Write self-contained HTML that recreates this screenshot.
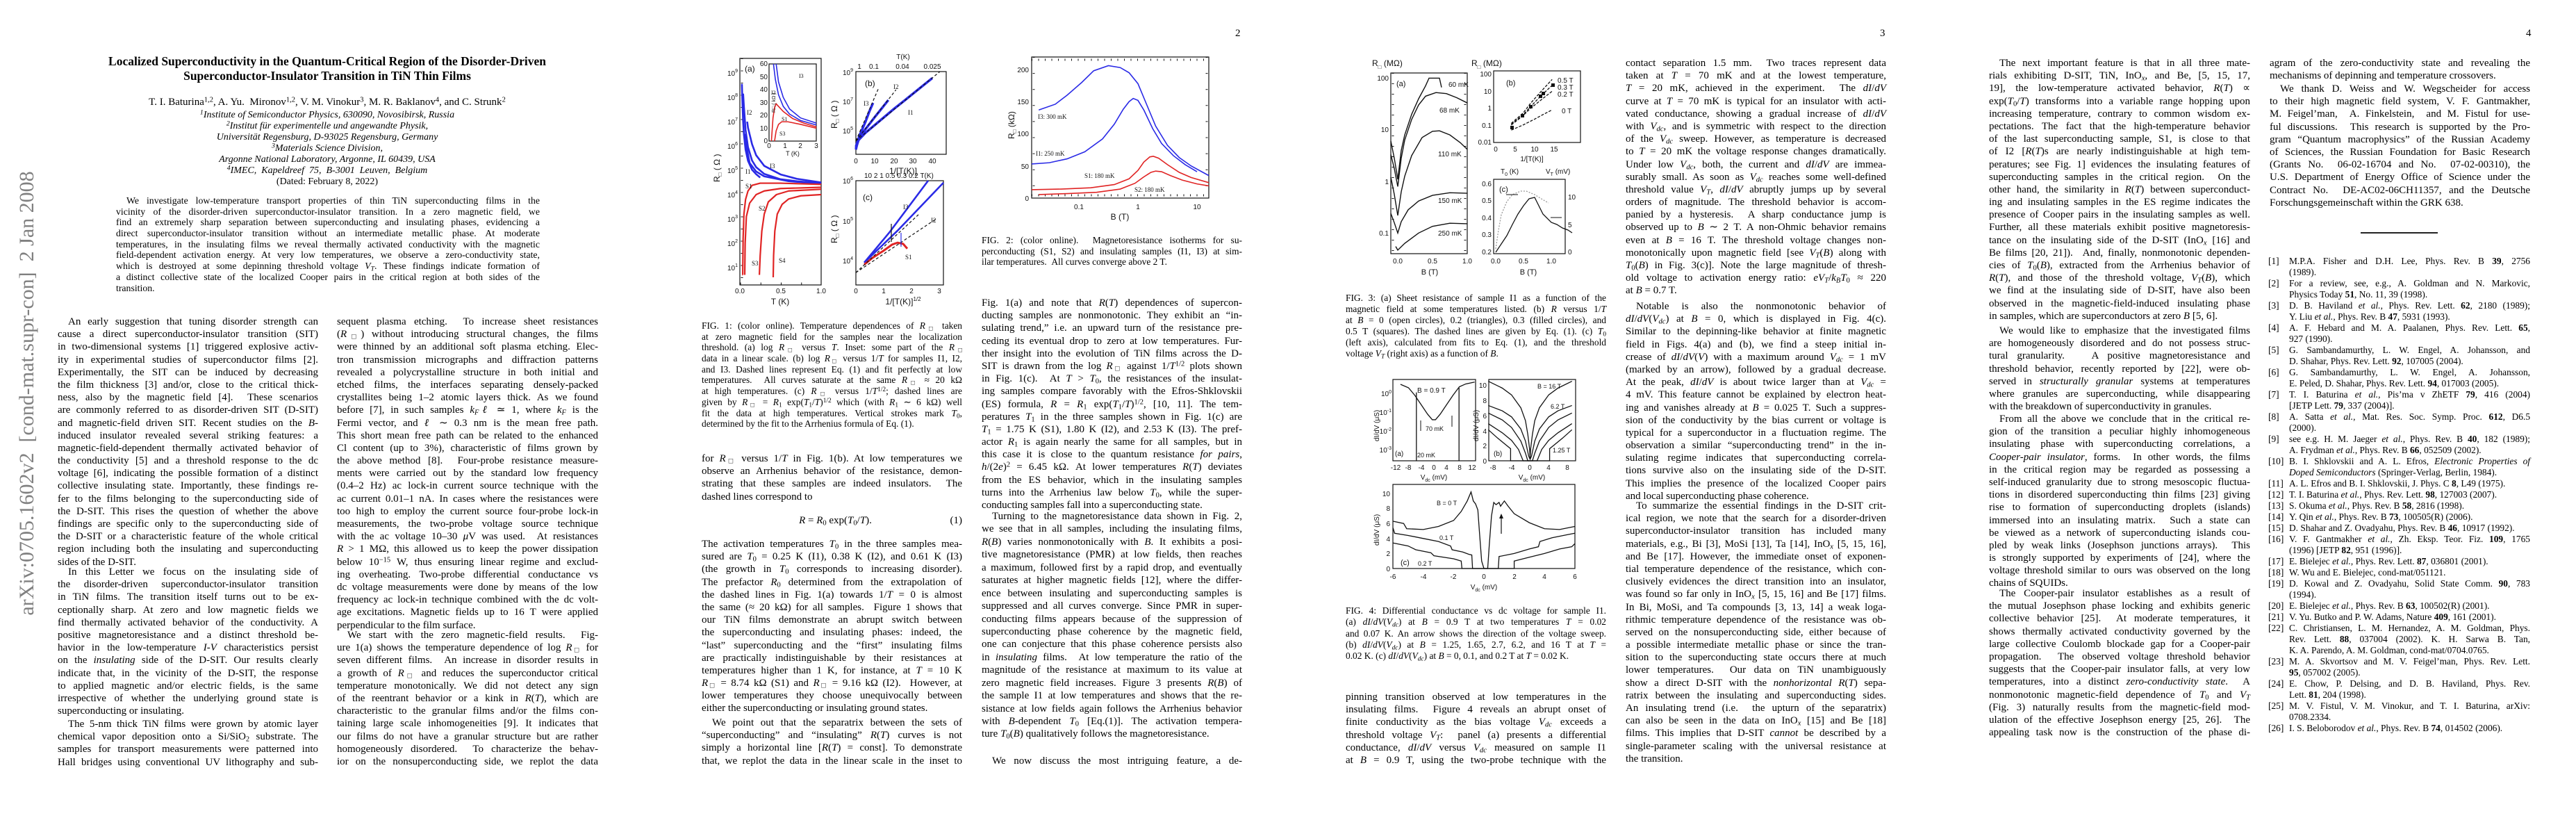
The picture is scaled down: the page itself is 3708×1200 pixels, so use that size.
<!DOCTYPE html>
<html><head><meta charset="utf-8">
<style>
html,body{margin:0;padding:0;background:#fff;}
body{width:3708px;height:1200px;position:relative;overflow:hidden;color:#000;font-family:"Liberation Serif",serif;}
.b{position:absolute;font-size:15px;line-height:18.2px;}
.b div{text-align:justify;text-align-last:justify;white-space:nowrap;height:18.2px;}
.b div.e{text-align-last:left;}
.b div.i{text-indent:15px;}
.c{position:absolute;font-size:13.4px;line-height:15.7px;}
.c div{text-align:justify;text-align-last:justify;white-space:nowrap;height:15.7px;}
.c div.e{text-align-last:left;}
.c div.i{text-indent:15px;}
sub,sup{font-size:70%;line-height:0;}
sub{vertical-align:-0.25em;} sup{vertical-align:0.45em;}
.pn{position:absolute;top:40px;font-size:15px;}
.ref{position:absolute;font-size:13.4px;line-height:16px;left:3267px;width:375px;}
.ref div{position:relative;padding-left:28px;height:16px;white-space:nowrap;text-align:justify;text-align-last:justify;}
.ref div.e{text-align-last:left;}
.ref span.n{position:absolute;left:4px;text-align:right;width:22px;left:-2px;}
svg text{font-family:"Liberation Sans",sans-serif;font-size:10px;fill:#111;}
svg text.s{font-family:"Liberation Serif",serif;}
</style></head><body>

<!-- sidebar -->
<div style="position:absolute;left:-311px;top:549px;width:700px;height:34px;transform:rotate(-90deg);transform-origin:350px 17px;text-align:center;white-space:pre;font-size:30px;line-height:34px;color:#808080;">arXiv:0705.1602v2  [cond-mat.supr-con]  2 Jan 2008</div>

<!-- PAGE 1 -->
<div style="position:absolute;left:21px;width:900px;top:78px;text-align:center;font-weight:bold;font-size:17.5px;line-height:21px;">Localized Superconductivity in the Quantum-Critical Region of the Disorder-Driven<br>Superconductor-Insulator Transition in TiN Thin Films</div>
<div style="position:absolute;left:21px;width:900px;top:139px;text-align:center;font-size:15px;line-height:16px;">T. I. Baturina<sup>1,2</sup>, A. Yu. &nbsp;Mironov<sup>1,2</sup>, V. M. Vinokur<sup>3</sup>, M. R. Baklanov<sup>4</sup>, and C. Strunk<sup>2</sup></div>
<div style="position:absolute;left:21px;width:900px;top:158px;text-align:center;font-size:14px;line-height:16px;font-style:italic;">
<sup>1</sup>Institute of Semiconductor Physics, 630090, Novosibirsk, Russia<br>
<sup>2</sup>Institut für experimentelle und angewandte Physik,<br>
Universität Regensburg, D-93025 Regensburg, Germany<br>
<sup>3</sup>Materials Science Division,<br>
Argonne National Laboratory, Argonne, IL 60439, USA<br>
<sup>4</sup>IMEC, &nbsp;Kapeldreef &nbsp;75, &nbsp;B-3001 &nbsp;Leuven, &nbsp;Belgium<br>
<span style="font-style:normal">(Dated: February 8, 2022)</span></div>

<div class="c" style="left:167px;width:610px;top:281px;line-height:16px;font-size:13.8px;">
<div class="i">We investigate low-temperature transport properties of thin TiN superconducting films in the</div>
<div>vicinity of the disorder-driven superconductor-insulator transition. In a zero magnetic field, we</div>
<div>find an extremely sharp separation between superconducting and insulating phases, evidencing a</div>
<div>direct superconductor-insulator transition without an intermediate metallic phase. At moderate</div>
<div>temperatures, in the insulating films we reveal thermally activated conductivity with the magnetic</div>
<div>field-dependent activation energy. At very low temperatures, we observe a zero-conductivity state,</div>
<div>which is destroyed at some depinning threshold voltage <i>V<sub>T</sub></i>. These findings indicate formation of</div>
<div>a distinct collective state of the localized Cooper pairs in the critical region at both sides of the</div>
<div class="e">transition.</div>
</div>

<div class="b" style="left:83px;width:375px;top:454px;">
<div class="i">An early suggestion that tuning disorder strength can</div>
<div>cause a direct superconductor-insulator transition (SIT)</div>
<div>in two-dimensional systems [1] triggered explosive activ-</div>
<div>ity in experimental studies of superconductor films [2].</div>
<div>Experimentally, the SIT can be induced by decreasing</div>
<div>the film thickness [3] and/or, close to the critical thick-</div>
<div>ness, also by the magnetic field [4]. &nbsp;These scenarios</div>
<div>are commonly referred to as disorder-driven SIT (D-SIT)</div>
<div>and magnetic-field driven SIT. Recent studies on the <i>B</i>-</div>
<div>induced insulator revealed several striking features: a</div>
<div>magnetic-field-dependent thermally activated behavior of</div>
<div>the conductivity [5] and a threshold response to the dc</div>
<div>voltage [6], indicating the possible formation of a distinct</div>
<div>collective insulating state. Importantly, these findings re-</div>
<div>fer to the films belonging to the superconducting side of</div>
<div>the D-SIT. This rises the question of whether the above</div>
<div>findings are specific only to the superconducting side of</div>
<div>the D-SIT or a characteristic feature of the whole critical</div>
<div>region including both the insulating and superconducting</div>
<div class="e">sides of the D-SIT.</div>
</div>
<div class="b" style="left:83px;width:375px;top:814px;">
<div class="i">In this Letter we focus on the insulating side of</div>
<div>the disorder-driven superconductor-insulator transition</div>
<div>in TiN films. The transition itself turns out to be ex-</div>
<div>ceptionally sharp. At zero and low magnetic fields we</div>
<div>find thermally activated behavior of the conductivity. A</div>
<div>positive magnetoresistance and a distinct threshold be-</div>
<div>havior in the low-temperature <i>I-V</i> characteristics persist</div>
<div>on the <i>insulating</i> side of the D-SIT. Our results clearly</div>
<div>indicate that, in the vicinity of the D-SIT, the response</div>
<div>to applied magnetic and/or electric fields, is the same</div>
<div>irrespective of whether the underlying ground state is</div>
<div class="e">superconducting or insulating.</div>
</div>
<div class="b" style="left:83px;width:375px;top:1033px;">
<div class="i">The 5-nm thick TiN films were grown by atomic layer</div>
<div>chemical vapor deposition onto a Si/SiO<sub>2</sub> substrate. The</div>
<div>samples for transport measurements were patterned into</div>
<div>Hall bridges using conventional UV lithography and sub-</div>
</div>

<div class="b" style="left:485px;width:376px;top:454px;">
<div>sequent plasma etching. &nbsp;To increase sheet resistances</div>
<div>(<i>R</i><sub>□</sub>) without introducing structural changes, the films</div>
<div>were thinned by an additional soft plasma etching. Elec-</div>
<div>tron transmission micrographs and diffraction patterns</div>
<div>revealed a polycrystalline structure in both initial and</div>
<div>etched films, the interfaces separating densely-packed</div>
<div>crystallites being 1–2 atomic layers thick. As we found</div>
<div>before [7], in such samples <i>k<sub>F</sub>ℓ</i> ≃ 1, where <i>k<sub>F</sub></i> is the</div>
<div>Fermi vector, and <i>ℓ</i> ∼ 0.3 nm is the mean free path.</div>
<div>This short mean free path can be related to the enhanced</div>
<div>Cl content (up to 3%), characteristic of films grown by</div>
<div>the above method [8]. &nbsp;Four-probe resistance measure-</div>
<div>ments were carried out by the standard low frequency</div>
<div>(0.4–2 Hz) ac lock-in current source technique with the</div>
<div>ac current 0.01–1 nA. In cases where the resistances were</div>
<div>too high to employ the current source four-probe lock-in</div>
<div>measurements, the two-probe voltage source technique</div>
<div>with the ac voltage 10–30 <i>μ</i>V was used. &nbsp;At resistances</div>
<div><i>R</i> &gt; 1 MΩ, this allowed us to keep the power dissipation</div>
<div>below 10<sup>−15</sup> W, thus ensuring linear regime and exclud-</div>
<div>ing overheating. Two-probe differential conductance vs</div>
<div>dc voltage measurements were done by means of the low</div>
<div>frequency ac lock-in technique combined with the dc volt-</div>
<div>age excitations. Magnetic fields up to 16 T were applied</div>
<div class="e">perpendicular to the film surface.</div>
</div>
<div class="b" style="left:485px;width:376px;top:905px;">
<div class="i">We start with the zero magnetic-field results. &nbsp;Fig-</div>
<div>ure 1(a) shows the temperature dependence of log <i>R</i><sub>□</sub> for</div>
<div>seven different films. &nbsp;An increase in disorder results in</div>
<div>a growth of <i>R</i><sub>□</sub> and reduces the superconductor critical</div>
<div>temperature monotonically. We did not detect any sign</div>
<div>of the reentrant behavior or a kink in <i>R</i>(<i>T</i>), which are</div>
<div>characteristic to the granular films and/or the films con-</div>
<div>taining large scale inhomogeneities [9]. It indicates that</div>
<div>our films do not have a granular structure but are rather</div>
<div>homogeneously disordered. &nbsp;To characterize the behav-</div>
<div>ior on the nonsuperconducting side, we replot the data</div>
</div>

<!-- PAGE 2 -->
<div class="pn" style="left:1778px;">2</div>
<div class="c" style="left:1010px;width:375px;top:461px;">
<div>FIG. 1: (color online). Temperature dependences of <i>R</i><sub>□</sub> taken</div>
<div>at zero magnetic field for the samples near the localization</div>
<div>threshold. (a) log <i>R</i><sub>□</sub> versus <i>T</i>. Inset: some part of the <i>R</i><sub>□</sub></div>
<div>data in a linear scale. (b) log <i>R</i><sub>□</sub> versus 1/<i>T</i> for samples I1, I2,</div>
<div>and I3. Dashed lines represent Eq. (1) and fit perfectly at low</div>
<div>temperatures. &nbsp;All curves saturate at the same <i>R</i><sub>□</sub> ≈ 20 kΩ</div>
<div>at high temperatures. (c) <i>R</i><sub>□</sub> versus 1/<i>T</i><sup>1/2</sup>; dashed lines are</div>
<div>given by <i>R</i><sub>□</sub> = <i>R</i><sub>1</sub> exp(<i>T</i><sub>1</sub>/<i>T</i>)<sup>1/2</sup> which (with <i>R</i><sub>1</sub> ∼ 6 kΩ) well</div>
<div>fit the data at high temperatures. Vertical strokes mark <i>T</i><sub>0</sub>,</div>
<div class="e">determined by the fit to the Arrhenius formula of Eq. (1).</div>
</div>
<div class="b" style="left:1010px;width:375px;top:651px;">
<div>for <i>R</i><sub>□</sub> versus 1/<i>T</i> in Fig. 1(b). At low temperatures we</div>
<div>observe an Arrhenius behavior of the resistance, demon-</div>
<div>strating that these samples are indeed insulators. &nbsp;The</div>
<div class="e">dashed lines correspond to</div>
</div>
<div style="position:absolute;left:1010px;width:375px;top:740px;font-size:15px;line-height:18px;">
<div style="text-align:center;padding-left:10px;"><i>R</i> = <i>R</i><sub>0</sub> exp(<i>T</i><sub>0</sub>/<i>T</i>).</div>
<div style="position:absolute;right:0;top:0;">(1)</div></div>
<div class="b" style="left:1010px;width:375px;top:774px;">
<div>The activation temperatures <i>T</i><sub>0</sub> in the three samples mea-</div>
<div>sured are <i>T</i><sub>0</sub> = 0.25 K (I1), 0.38 K (I2), and 0.61 K (I3)</div>
<div>(the growth in <i>T</i><sub>0</sub> corresponds to increasing disorder).</div>
<div>The prefactor <i>R</i><sub>0</sub> determined from the extrapolation of</div>
<div>the dashed lines in Fig. 1(a) towards 1/<i>T</i> = 0 is almost</div>
<div>the same (≈ 20 kΩ) for all samples. &nbsp;Figure 1 shows that</div>
<div>our TiN films demonstrate an abrupt switch between</div>
<div>the superconducting and insulating phases: indeed, the</div>
<div>“last” superconducting and the “first” insulating films</div>
<div>are practically indistinguishable by their resistances at</div>
<div>temperatures higher than 1 K, for instance, at <i>T</i> = 10 K</div>
<div><i>R</i><sub>□</sub> = 8.74 kΩ (S1) and <i>R</i><sub>□</sub> = 9.16 kΩ (I2). &nbsp;However, at</div>
<div>lower temperatures they choose unequivocally between</div>
<div class="e">either the superconducting or insulating ground states.</div>
</div>
<div class="b" style="left:1010px;width:375px;top:1031px;">
<div class="i">We point out that the separatrix between the sets of</div>
<div>“superconducting” and “insulating” <i>R</i>(<i>T</i>) curves is not</div>
<div>simply a horizontal line [<i>R</i>(<i>T</i>) = const]. To demonstrate</div>
<div>that, we replot the data in the linear scale in the inset to</div>
</div>

<div class="c" style="left:1413px;width:375px;top:338px;">
<div>FIG. 2: (color online). &nbsp;Magnetoresistance isotherms for su-</div>
<div>perconducting (S1, S2) and insulating samples (I1, I3) at sim-</div>
<div class="e">ilar temperatures. &nbsp;All curves converge above 2 T.</div>
</div>
<div class="b" style="left:1413px;width:375px;top:427px;">
<div>Fig. 1(a) and note that <i>R</i>(<i>T</i>) dependences of supercon-</div>
<div>ducting samples are nonmonotonic. They exhibit an “in-</div>
<div>sulating trend,” i.e. an upward turn of the resistance pre-</div>
<div>ceding its eventual drop to zero at low temperatures. Fur-</div>
<div>ther insight into the evolution of TiN films across the D-</div>
<div>SIT is drawn from the log <i>R</i><sub>□</sub> against 1/<i>T</i><sup>1/2</sup> plots shown</div>
<div>in Fig. 1(c). &nbsp;At <i>T</i> &gt; <i>T</i><sub>0</sub>, the resistances of the insulat-</div>
<div>ing samples compare favorably with the Efros-Shklovskii</div>
<div>(ES) formula, <i>R</i> = <i>R</i><sub>1</sub> exp(<i>T</i><sub>1</sub>/<i>T</i>)<sup>1/2</sup>, [10, 11]. The tem-</div>
<div>peratures <i>T</i><sub>1</sub> in the three samples shown in Fig. 1(c) are</div>
<div><i>T</i><sub>1</sub> = 1.75 K (S1), 1.80 K (I2), and 2.53 K (I3). The pref-</div>
<div>actor <i>R</i><sub>1</sub> is again nearly the same for all samples, but in</div>
<div>this case it is close to the quantum resistance <i>for pairs</i>,</div>
<div><i>h</i>/(2<i>e</i>)<sup>2</sup> = 6.45 kΩ. At lower temperatures <i>R</i>(<i>T</i>) deviates</div>
<div>from the ES behavior, which in the insulating samples</div>
<div>turns into the Arrhenius law below <i>T</i><sub>0</sub>, while the super-</div>
<div class="e">conducting samples fall into a superconducting state.</div>
</div>
<div class="b" style="left:1413px;width:375px;top:734px;line-height:18.45px;">
<div class="i" style="height:18.45px">Turning to the magnetoresistance data shown in Fig. 2,</div>
<div style="height:18.45px">we see that in all samples, including the insulating films,</div>
<div style="height:18.45px"><i>R</i>(<i>B</i>) varies nonmonotonically with <i>B</i>. It exhibits a posi-</div>
<div style="height:18.45px">tive magnetoresistance (PMR) at low fields, then reaches</div>
<div style="height:18.45px">a maximum, followed first by a rapid drop, and eventually</div>
<div style="height:18.45px">saturates at higher magnetic fields [12], where the differ-</div>
<div style="height:18.45px">ence between insulating and superconducting samples is</div>
<div style="height:18.45px">suppressed and all curves converge. Since PMR in super-</div>
<div style="height:18.45px">conducting films appears because of the suppression of</div>
<div style="height:18.45px">superconducting phase coherence by the magnetic field,</div>
<div style="height:18.45px">one can conjecture that this phase coherence persists also</div>
<div style="height:18.45px">in <i>insulating</i> films. &nbsp;At low temperature the ratio of the</div>
<div style="height:18.45px">magnitude of the resistance at maximum to its value at</div>
<div style="height:18.45px">zero magnetic field increases. Figure 3 presents <i>R</i>(<i>B</i>) of</div>
<div style="height:18.45px">the sample I1 at low temperatures and shows that the re-</div>
<div style="height:18.45px">sistance at low fields again follows the Arrhenius behavior</div>
<div style="height:18.45px">with <i>B</i>-dependent <i>T</i><sub>0</sub> [Eq.(1)]. The activation tempera-</div>
<div class="e" style="height:18.45px">ture <i>T</i><sub>0</sub>(<i>B</i>) qualitatively follows the magnetoresistance.</div>
</div>
<div class="b" style="left:1413px;width:375px;top:1086px;">
<div class="i">We now discuss the most intriguing feature, a de-</div>
</div>

<!-- PAGE 3 -->
<div class="pn" style="left:2706px;">3</div>
<div class="c" style="left:1937px;width:375px;top:421px;line-height:16px;">
<div style="height:16px">FIG. 3: (a) Sheet resistance of sample I1 as a function of the</div>
<div style="height:16px">magnetic field at some temperatures listed. (b) <i>R</i> versus 1/<i>T</i></div>
<div style="height:16px">at <i>B</i> = 0 (open circles), 0.2 (triangles), 0.3 (filled circles), and</div>
<div style="height:16px">0.5 T (squares). The dashed lines are given by Eq. (1). (c) <i>T</i><sub>0</sub></div>
<div style="height:16px">(left axis), calculated from fits to Eq. (1), and the threshold</div>
<div class="e" style="height:16px">voltage <i>V<sub>T</sub></i> (right axis) as a function of <i>B</i>.</div>
</div>
<div class="c" style="left:1937px;width:375px;top:871px;line-height:16.3px;">
<div style="height:16.3px">FIG. 4: Differential conductance vs dc voltage for sample I1.</div>
<div style="height:16.3px">(a) <i>dI</i>/<i>dV</i>(<i>V<sub>dc</sub></i>) at <i>B</i> = 0.9 T at two temperatures <i>T</i> = 0.02</div>
<div style="height:16.3px">and 0.07 K. An arrow shows the direction of the voltage sweep.</div>
<div style="height:16.3px">(b) <i>dI</i>/<i>dV</i>(<i>V<sub>dc</sub></i>) at <i>B</i> = 1.25, 1.65, 2.7, 6.2, and 16 T at <i>T</i> =</div>
<div class="e" style="height:16.3px">0.02 K. (c) <i>dI</i>/<i>dV</i>(<i>V<sub>dc</sub></i>) at <i>B</i> = 0, 0.1, and 0.2 T at <i>T</i> = 0.02 K.</div>
</div>
<div class="b" style="left:1937px;width:375px;top:994px;">
<div>pinning transition observed at low temperatures in the</div>
<div>insulating films. &nbsp;Figure 4 reveals an abrupt onset of</div>
<div>finite conductivity as the bias voltage <i>V<sub>dc</sub></i> exceeds a</div>
<div>threshold voltage <i>V<sub>T</sub></i>: &nbsp;panel (a) presents a differential</div>
<div>conductance, <i>dI</i>/<i>dV</i> versus <i>V<sub>dc</sub></i> measured on sample I1</div>
<div>at <i>B</i> = 0.9 T, using the two-probe technique with the</div>
</div>

<div class="b" style="left:2340px;width:375px;top:82px;">
<div>contact separation 1.5 mm. &nbsp;Two traces represent data</div>
<div>taken at <i>T</i> = 70 mK and at the lowest temperature,</div>
<div><i>T</i> = 20 mK, achieved in the experiment. &nbsp;The <i>dI</i>/<i>dV</i></div>
<div>curve at <i>T</i> = 70 mK is typical for an insulator with acti-</div>
<div>vated conductance, showing a gradual increase of <i>dI</i>/<i>dV</i></div>
<div>with <i>V<sub>dc</sub></i>, and is symmetric with respect to the direction</div>
<div>of the <i>V<sub>dc</sub></i> sweep. However, as temperature is decreased</div>
<div>to <i>T</i> = 20 mK the voltage response changes dramatically.</div>
<div>Under low <i>V<sub>dc</sub></i>, both, the current and <i>dI</i>/<i>dV</i> are immea-</div>
<div>surably small. As soon as <i>V<sub>dc</sub></i> reaches some well-defined</div>
<div>threshold value <i>V<sub>T</sub></i>, <i>dI</i>/<i>dV</i> abruptly jumps up by several</div>
<div>orders of magnitude. The threshold behavior is accom-</div>
<div>panied by a hysteresis. &nbsp;A sharp conductance jump is</div>
<div>observed up to <i>B</i> ∼ 2 T. A non-Ohmic behavior remains</div>
<div>even at <i>B</i> = 16 T. The threshold voltage changes non-</div>
<div>monotonically upon magnetic field [see <i>V<sub>T</sub></i>(<i>B</i>) along with</div>
<div><i>T</i><sub>0</sub>(<i>B</i>) in Fig. 3(c)]. Note the large magnitude of thresh-</div>
<div>old voltage to activation energy ratio: <i>eV<sub>T</sub></i>/<i>k<sub>B</sub>T</i><sub>0</sub> ≈ 220</div>
<div class="e">at <i>B</i> = 0.7 T.</div>
</div>
<div class="b" style="left:2340px;width:375px;top:432px;">
<div class="i">Notable is also the nonmonotonic behavior of</div>
<div><i>dI</i>/<i>dV</i>(<i>V<sub>dc</sub></i>) at <i>B</i> = 0, which is displayed in Fig. 4(c).</div>
<div>Similar to the depinning-like behavior at finite magnetic</div>
<div>field in Figs. 4(a) and (b), we find a steep initial in-</div>
<div>crease of <i>dI</i>/<i>dV</i>(<i>V</i>) with a maximum around <i>V<sub>dc</sub></i> = 1 mV</div>
<div>(marked by an arrow), followed by a gradual decrease.</div>
<div>At the peak, <i>dI</i>/<i>dV</i> is about twice larger than at <i>V<sub>dc</sub></i> =</div>
<div>4 mV. This feature cannot be explained by electron heat-</div>
<div>ing and vanishes already at <i>B</i> = 0.025 T. Such a suppres-</div>
<div>sion of the conductivity by the bias current or voltage is</div>
<div>typical for a superconductor in a fluctuation regime. The</div>
<div>observation a similar “superconducting trend” in the in-</div>
<div>sulating regime indicates that superconducting correla-</div>
<div>tions survive also on the insulating side of the D-SIT.</div>
<div>This implies the presence of the localized Cooper pairs</div>
<div class="e">and local superconducting phase coherence.</div>
</div>
<div class="b" style="left:2340px;width:375px;top:719px;">
<div class="i">To summarize the essential findings in the D-SIT crit-</div>
<div>ical region, we note that the search for a disorder-driven</div>
<div>superconductor-insulator transition has included many</div>
<div>materials, e.g., Bi [3], MoSi [13], Ta [14], InO<sub><i>x</i></sub> [5, 15, 16],</div>
<div>and Be [17]. However, the immediate onset of exponen-</div>
<div>tial temperature dependence of the resistance, which con-</div>
<div>clusively evidences the direct transition into an insulator,</div>
<div>was found so far only in InO<sub><i>x</i></sub> [5, 15, 16] and Be [17] films.</div>
<div>In Bi, MoSi, and Ta compounds [3, 13, 14] a weak loga-</div>
<div>rithmic temperature dependence of the resistance was ob-</div>
<div>served on the nonsuperconducting side, either because of</div>
<div>a possible intermediate metallic phase or since the tran-</div>
<div>sition to the superconducting state occurs there at much</div>
<div>lower temperatures. &nbsp;Our data on TiN unambiguously</div>
<div>show a direct D-SIT with the <i>nonhorizontal R</i>(<i>T</i>) sepa-</div>
<div>ratrix between the insulating and superconducting sides.</div>
<div>An insulating trend (i.e. &nbsp;the upturn of the separatrix)</div>
<div>can also be seen in the data on InO<sub><i>x</i></sub> [15] and Be [18]</div>
<div>films. This implies that D-SIT <i>cannot</i> be described by a</div>
<div>single-parameter scaling with the universal resistance at</div>
<div class="e">the transition.</div>
</div>

<!-- PAGE 4 -->
<div class="pn" style="left:3636px;">4</div>
<div class="b" style="left:2863px;width:376px;top:82px;">
<div class="i">The next important feature is that in all three mate-</div>
<div>rials exhibiting D-SIT, TiN, InO<sub><i>x</i></sub>, and Be, [5, 15, 17,</div>
<div>19], the low-temperature activated behavior, <i>R</i>(<i>T</i>) ∝</div>
<div>exp(<i>T</i><sub>0</sub>/<i>T</i>) transforms into a variable range hopping upon</div>
<div>increasing temperature, contrary to common wisdom ex-</div>
<div>pectations. The fact that the high-temperature behavior</div>
<div>of the last superconducting sample, S1, is close to that</div>
<div>of I2 [<i>R</i>(<i>T</i>)s are nearly indistinguishable at high tem-</div>
<div>peratures; see Fig. 1] evidences the insulating features of</div>
<div>superconducting samples in the critical region. &nbsp;On the</div>
<div>other hand, the similarity in <i>R</i>(<i>T</i>) between superconduct-</div>
<div>ing and insulating samples in the ES regime indicates the</div>
<div>presence of Cooper pairs in the insulating samples as well.</div>
<div>Further, all these materials exhibit positive magnetoresis-</div>
<div>tance on the insulating side of the D-SIT (InO<sub><i>x</i></sub> [16] and</div>
<div>Be films [20, 21]). &nbsp;And, finally, nonmonotonic dependen-</div>
<div>cies of <i>T</i><sub>0</sub>(<i>B</i>), extracted from the Arrhenius behavior of</div>
<div><i>R</i>(<i>T</i>), and those of the threshold voltage, <i>V<sub>T</sub></i>(<i>B</i>), which</div>
<div>we find at the insulating side of D-SIT, have also been</div>
<div>observed in the magnetic-field-induced insulating phase</div>
<div class="e">in samples, which are superconductors at zero <i>B</i> [5, 6].</div>
</div>
<div class="b" style="left:2863px;width:376px;top:467px;">
<div class="i">We would like to emphasize that the investigated films</div>
<div>are homogeneously disordered and do not possess struc-</div>
<div>tural granularity. &nbsp;&nbsp;A positive magnetoresistance and</div>
<div>threshold behavior, recently reported by [22], were ob-</div>
<div>served in <i>structurally granular</i> systems at temperatures</div>
<div>where granules are superconducting, while disappearing</div>
<div class="e">with the breakdown of superconductivity in granules.</div>
</div>
<div class="b" style="left:2863px;width:376px;top:594px;">
<div class="i">From all the above we conclude that in the critical re-</div>
<div>gion of the transition a peculiar highly inhomogeneous</div>
<div>insulating phase with superconducting correlations, a</div>
<div><i>Cooper-pair insulator</i>, forms. &nbsp;In other words, the films</div>
<div>in the critical region may be regarded as possessing a</div>
<div>self-induced granularity due to strong mesoscopic fluctua-</div>
<div>tions in disordered superconducting thin films [23] giving</div>
<div>rise to formation of superconducting droplets (islands)</div>
<div>immersed into an insulating matrix. &nbsp;Such a state can</div>
<div>be viewed as a network of superconducting islands cou-</div>
<div>pled by weak links (Josephson junctions arrays). &nbsp;This</div>
<div>is strongly supported by experiments of [24], where the</div>
<div>voltage threshold similar to ours was observed on the long</div>
<div class="e">chains of SQUIDs.</div>
</div>
<div class="b" style="left:2863px;width:376px;top:845px;">
<div class="i">The Cooper-pair insulator establishes as a result of</div>
<div>the mutual Josephson phase locking and exhibits generic</div>
<div>collective behavior [25]. &nbsp;At moderate temperatures, it</div>
<div>shows thermally activated conductivity governed by the</div>
<div>large collective Coulomb blockade gap for a Cooper-pair</div>
<div>propagation. &nbsp;The observed voltage threshold behavior</div>
<div>suggests that the Cooper-pair insulator falls, at very low</div>
<div>temperatures, into a distinct <i>zero-conductivity state</i>. &nbsp;A</div>
<div>nonmonotonic magnetic-field dependence of <i>T</i><sub>0</sub> and <i>V<sub>T</sub></i></div>
<div>(Fig. 3) naturally results from the magnetic-field mod-</div>
<div>ulation of the effective Josephson energy [25, 26]. &nbsp;The</div>
<div>appealing task now is the construction of the phase di-</div>
</div>
<div class="b" style="left:3267px;width:375px;top:82px;">
<div>agram of the zero-conductivity state and revealing the</div>
<div class="e">mechanisms of depinning and temperature crossovers.</div>
</div>
<div class="b" style="left:3267px;width:375px;top:119px;">
<div class="i">We thank D. Weiss and W. Wegscheider for access</div>
<div>to their high magnetic field system, V. F. Gantmakher,</div>
<div>M. Feigel’man, &nbsp;A. Finkelstein, &nbsp;and M. Fistul for use-</div>
<div>ful discussions. &nbsp;This research is supported by the Pro-</div>
<div>gram “Quantum macrophysics” of the Russian Academy</div>
<div>of Sciences, the Russian Foundation for Basic Research</div>
<div>(Grants No. &nbsp;06-02-16704 and No. &nbsp;07-02-00310), the</div>
<div>U.S. Department of Energy Office of Science under the</div>
<div>Contract No. &nbsp;DE-AC02-06CH11357, and the Deutsche</div>
<div class="e">Forschungsgemeinschaft within the GRK 638.</div>
</div>
<div style="position:absolute;left:3398px;top:334px;width:111px;height:1.5px;background:#222;"></div>

<div class="ref" style="top:368px;">
<div><span class="n">[1]</span>M.P.A. Fisher and D.H. Lee, Phys. Rev. B <b>39</b>, 2756</div>
<div class="e">(1989).</div>
<div><span class="n">[2]</span>For a review, see, e.g., A. Goldman and N. Markovic,</div>
<div class="e">Physics Today <b>51</b>, No. 11, 39 (1998).</div>
<div><span class="n">[3]</span>D. B. Haviland <i>et al.</i>, Phys. Rev. Lett. <b>62</b>, 2180 (1989);</div>
<div class="e">Y. Liu <i>et al.</i>, Phys. Rev. B <b>47</b>, 5931 (1993).</div>
<div><span class="n">[4]</span>A. F. Hebard and M. A. Paalanen, Phys. Rev. Lett. <b>65</b>,</div>
<div class="e">927 (1990).</div>
<div><span class="n">[5]</span>G. Sambandamurthy, L. W. Engel, A. Johansson, and</div>
<div class="e">D. Shahar, Phys. Rev. Lett. <b>92</b>, 107005 (2004).</div>
<div><span class="n">[6]</span>G. Sambandamurthy, L. W. Engel, A. Johansson,</div>
<div class="e">E. Peled, D. Shahar, Phys. Rev. Lett. <b>94</b>, 017003 (2005).</div>
<div><span class="n">[7]</span>T. I. Baturina <i>et al.</i>, Pis’ma v ZhETF <b>79</b>, 416 (2004)</div>
<div class="e">[JETP Lett. <b>79</b>, 337 (2004)].</div>
<div><span class="n">[8]</span>A. Satta <i>et al.</i>, Mat. Res. Soc. Symp. Proc. <b>612</b>, D6.5</div>
<div class="e">(2000).</div>
<div><span class="n">[9]</span>see e.g. H. M. Jaeger <i>et al.</i>, Phys. Rev. B <b>40</b>, 182 (1989);</div>
<div class="e">A. Frydman <i>et al.</i>, Phys. Rev. B <b>66</b>, 052509 (2002).</div>
<div><span class="n">[10]</span>B. I. Shklovskii and A. L. Efros, <i>Electronic Properties of</i></div>
<div class="e"><i>Doped Semiconductors</i> (Springer-Verlag, Berlin, 1984).</div>
<div class="e"><span class="n">[11]</span>A. L. Efros and B. I. Shklovskii, J. Phys. C <b>8</b>, L49 (1975).</div>
<div class="e"><span class="n">[12]</span>T. I. Baturina <i>et al.</i>, Phys. Rev. Lett. <b>98</b>, 127003 (2007).</div>
<div class="e"><span class="n">[13]</span>S. Okuma <i>et al.</i>, Phys. Rev. B <b>58</b>, 2816 (1998).</div>
<div class="e"><span class="n">[14]</span>Y. Qin <i>et al.</i>, Phys. Rev. B <b>73</b>, 100505(R) (2006).</div>
<div class="e"><span class="n">[15]</span>D. Shahar and Z. Ovadyahu, Phys. Rev. B <b>46</b>, 10917 (1992).</div>
<div><span class="n">[16]</span>V. F. Gantmakher <i>et al.</i>, Zh. Eksp. Teor. Fiz. <b>109</b>, 1765</div>
<div class="e">(1996) [JETP <b>82</b>, 951 (1996)].</div>
<div class="e"><span class="n">[17]</span>E. Bielejec <i>et al.</i>, Phys. Rev. Lett. <b>87</b>, 036801 (2001).</div>
<div class="e"><span class="n">[18]</span>W. Wu and E. Bielejec, cond-mat/051121.</div>
<div><span class="n">[19]</span>D. Kowal and Z. Ovadyahu, Solid State Comm. <b>90</b>, 783</div>
<div class="e">(1994).</div>
<div class="e"><span class="n">[20]</span>E. Bielejec <i>et al.</i>, Phys. Rev. B <b>63</b>, 100502(R) (2001).</div>
<div class="e"><span class="n">[21]</span>V. Yu. Butko and P. W. Adams, Nature <b>409</b>, 161 (2001).</div>
<div><span class="n">[22]</span>C. Christiansen, L. M. Hernandez, A. M. Goldman, Phys.</div>
<div>Rev. Lett. <b>88</b>, 037004 (2002). K. H. Sarwa B. Tan,</div>
<div class="e">K. A. Parendo, A. M. Goldman, cond-mat/0704.0765.</div>
<div><span class="n">[23]</span>M. A. Skvortsov and M. V. Feigel’man, Phys. Rev. Lett.</div>
<div class="e"><b>95</b>, 057002 (2005).</div>
<div><span class="n">[24]</span>E. Chow, P. Delsing, and D. B. Haviland, Phys. Rev.</div>
<div class="e">Lett. <b>81</b>, 204 (1998).</div>
<div><span class="n">[25]</span>M. V. Fistul, V. M. Vinokur, and T. I. Baturina, arXiv:</div>
<div class="e">0708.2334.</div>
<div class="e"><span class="n">[26]</span>I. S. Beloborodov <i>et al.</i>, Phys. Rev. B <b>74</b>, 014502 (2006).</div>
</div>

<!-- FIGURES -->
<svg width="3708" height="1200" style="position:absolute;left:0;top:0;" xmlns="http://www.w3.org/2000/svg">
<g fill="none" stroke="#111" stroke-width="1.2">
 <rect x="1065" y="84" width="117" height="326"/>
 <rect x="1107" y="92" width="68" height="111"/>
 <rect x="1232" y="103" width="130" height="119"/>
 <rect x="1232" y="260" width="126" height="150"/>
 <rect x="1485" y="82" width="255" height="203"/>
 <rect x="2002" y="105" width="110" height="260"/>
 <rect x="2150" y="102" width="125" height="103"/>
 <rect x="2150" y="258" width="103" height="107"/>
 <rect x="2005" y="546" width="119" height="117"/>
 <rect x="2143" y="546" width="125" height="117"/>
 <rect x="2005" y="697" width="262" height="121"/>
</g>
<g stroke="#111" stroke-width="3" fill="none">
 <line x1="1065" y1="408" x2="1182" y2="408" stroke-dasharray="1 28.25" stroke-dashoffset="-0.5"/>
 <line x1="1485" y1="86" x2="1740" y2="86" stroke-dasharray="1 8.5"/>
 <line x1="1485" y1="281" x2="1740" y2="281" stroke-dasharray="1 8.5"/>
 <line x1="1488" y1="82" x2="1488" y2="285" stroke-dasharray="1 22.1"/>
 <line x1="1737" y1="82" x2="1737" y2="285" stroke-dasharray="1 22.1"/>
 <line x1="2005" y1="105" x2="2005" y2="365" stroke-dasharray="1 14"/>
 <line x1="2109" y1="105" x2="2109" y2="365" stroke-dasharray="1 14"/>
 <line x1="1068" y1="84" x2="1068" y2="410" stroke-dasharray="1 16.5"/>
</g>

<g transform="translate(1065,420) scale(117,-35)" fill="none" stroke-linejoin="round">
 <g stroke="#2a2ae6" stroke-width="2.6">
 <polyline vector-effect="non-scaling-stroke" points="0.025,8.55 0.03,7.92 0.04,7.01 0.05,6.47 0.07,5.85 0.1,5.39 0.15,5.02 0.2,4.84 0.25,4.7"/>
 <polyline vector-effect="non-scaling-stroke" points="0.04,8.15 0.05,7.6 0.07,6.66 0.1,5.95 0.15,5.4 0.2,5.13 0.3,4.85 0.5,4.63 0.7,4.55 1,4.47"/>
 <polyline vector-effect="non-scaling-stroke" points="0.09,7.0 0.1,6.75 0.15,6.07 0.2,5.62 0.3,5.18 0.5,4.83 0.7,4.65 1,4.5"/>
 <polyline vector-effect="non-scaling-stroke" points="0.06,6.5 0.08,6.0 0.12,5.3 0.2,4.95 0.3,4.75 0.6,4.55 1,4.45"/>
 </g>
 <g stroke="#e02424" stroke-width="2.2">
 <polyline vector-effect="non-scaling-stroke" points="0.035,0.7 0.04,2.2 0.05,3.2 0.07,3.8 0.1,4.15 0.15,4.38 0.25,4.47 0.5,4.47 1,4.42"/>
 <polyline vector-effect="non-scaling-stroke" points="0.06,0.7 0.065,2.0 0.08,3.1 0.12,3.65 0.2,4.0 0.3,4.15 0.5,4.25 1,4.3"/>
 <polyline vector-effect="non-scaling-stroke" points="0.24,0.7 0.25,1.5 0.27,2.5 0.3,3.2 0.35,3.7 0.45,4.0 0.6,4.15 1,4.22"/>
 <polyline vector-effect="non-scaling-stroke" points="0.41,0.6 0.415,1.5 0.43,2.5 0.46,3.2 0.52,3.6 0.6,3.82 0.75,3.95 1,4.0"/>
 <polyline vector-effect="non-scaling-stroke" points="0.03,0.7 0.035,0.7"/>
 </g>
</g>
<g transform="translate(1107,203) scale(22.7,-1.85)" fill="none" stroke-width="1.6">
 <polyline stroke="#2a2ae6" vector-effect="non-scaling-stroke" points="0.28,60 0.4,48 0.6,36 0.9,27 1.3,21 2,16 3,12.5"/>
 <polyline stroke="#2a2ae6" vector-effect="non-scaling-stroke" points="0.45,60 0.6,46 0.9,34 1.3,25 2,18 3,14"/>
 <polyline stroke="#e02424" vector-effect="non-scaling-stroke" points="0.15,0 0.25,18 0.35,26 0.45,29 0.6,27 0.9,23 1.5,17.5 2.2,14 3,11"/>
 <polyline stroke="#e02424" vector-effect="non-scaling-stroke" points="0.35,0 0.45,8 0.6,13 0.8,15 1.2,15 2,13 3,10"/>
</g>
<g transform="translate(1232,293) scale(2.75,-21)" fill="none">
 <polyline stroke="#2a2ae6" stroke-width="3.5" vector-effect="non-scaling-stroke" points="0,3.7 1,4.3 5,4.85 10,5.4 20,6.5 25,7.02 40,8.6"/>
 <polyline stroke="#2a2ae6" stroke-width="3.5" vector-effect="non-scaling-stroke" points="0,3.8 2,4.6 5,5.1 10,5.95 14,6.6 17,7.1"/>
 <polyline stroke="#2a2ae6" stroke-width="3.5" vector-effect="non-scaling-stroke" points="0,3.9 2,4.7 5,5.6 7,6.3 9,6.9"/>
 <g stroke="#111" stroke-width="1.2" stroke-dasharray="4 3">
 <polyline vector-effect="non-scaling-stroke" points="0,4.3 44,9.05"/>
 <polyline vector-effect="non-scaling-stroke" points="0,4.3 21,7.8"/>
 <polyline vector-effect="non-scaling-stroke" points="0,4.3 12,7.95"/>
 </g>
</g>
<g transform="translate(1232,605) scale(40,-57.5)" fill="none">
 <polyline stroke="#2a2ae6" stroke-width="2.6" vector-effect="non-scaling-stroke" points="0.3,3.95 1.2,4.7 2.6,6.0"/>
 <polyline stroke="#2a2ae6" stroke-width="2.6" vector-effect="non-scaling-stroke" points="0.3,3.95 1.5,4.75 3.15,5.95"/>
 <polyline stroke="#e02424" stroke-width="3" vector-effect="non-scaling-stroke" points="0.3,3.9 0.6,4.07 1,4.25 1.3,4.4 1.5,4.45 1.7,4.42 1.85,4.3"/>
 <g stroke="#111" stroke-width="1.2" stroke-dasharray="4 3">
 <polyline vector-effect="non-scaling-stroke" points="0,3.7 2.25,5.15"/>
 <polyline vector-effect="non-scaling-stroke" points="0,3.7 2.9,5.05"/>
 </g>
</g>
<line x1="1283" y1="322" x2="1283" y2="348" stroke="#111" stroke-width="1.2"/>
<line x1="1297" y1="335" x2="1297" y2="355" stroke="#2a2ae6" stroke-width="1.2"/>

<text x="1072" y="103" style="font-size:12px">(a)</text>
<g style="font-size:11px" text-anchor="end">
<text x="1062" y="109">10<tspan dy="-5" font-size="7">9</tspan></text>
<text x="1062" y="144">10<tspan dy="-5" font-size="7">8</tspan></text>
<text x="1062" y="179">10<tspan dy="-5" font-size="7">7</tspan></text>
<text x="1062" y="214">10<tspan dy="-5" font-size="7">6</tspan></text>
<text x="1062" y="249">10<tspan dy="-5" font-size="7">5</tspan></text>
<text x="1062" y="284">10<tspan dy="-5" font-size="7">4</tspan></text>
<text x="1062" y="319">10<tspan dy="-5" font-size="7">3</tspan></text>
<text x="1062" y="354">10<tspan dy="-5" font-size="7">2</tspan></text>
<text x="1062" y="389">10<tspan dy="-5" font-size="7">1</tspan></text>
</g>
<g style="font-size:11px" text-anchor="middle">
<text x="1065" y="422">0.0</text><text x="1124" y="422">0.5</text><text x="1182" y="422">1.0</text>
<text x="1123" y="438" style="font-size:12px">T (K)</text>
</g>
<text transform="translate(1036,262) rotate(-90)" style="font-size:12px">R<tspan font-size="8" dy="3">□</tspan><tspan dy="-3"> ( Ω )</tspan></text>
<text class="s" x="1075" y="165" style="font-size:9px">I2</text>
<text class="s" x="1108" y="242" style="font-size:9px">I3</text>
<text class="s" x="1073" y="250" style="font-size:9px">I1</text>
<text class="s" x="1073" y="271" style="font-size:9px">S1</text>
<text class="s" x="1092" y="303" style="font-size:9px">S2</text>
<text class="s" x="1082" y="382" style="font-size:9px">S3</text>
<text class="s" x="1121" y="378" style="font-size:9px">S4</text>
<text class="s" x="1150" y="112" style="font-size:8px">I3</text>
<text class="s" x="1110" y="136" style="font-size:8px">I2</text>
<text class="s" x="1125" y="174" style="font-size:8px">S1</text>
<text class="s" x="1122" y="195" style="font-size:8px">S3</text>
<g style="font-size:8px" text-anchor="end">
<text x="1105" y="95">60</text><text x="1105" y="114">50</text><text x="1105" y="132">40</text><text x="1105" y="151">30</text><text x="1105" y="169">20</text><text x="1105" y="188">10</text><text x="1105" y="206">0</text>
</g>
<g style="font-size:8px" text-anchor="middle"><text x="1107" y="213">0</text><text x="1130" y="213">1</text><text x="1152" y="213">2</text><text x="1175" y="213">3</text><text x="1141" y="224" style="font-size:9px">T (K)</text></g>
<text transform="translate(1116,162) rotate(-90)" style="font-size:7px">R□ ( kΩ )</text>

<text x="1245" y="124" style="font-size:12px">(b)</text>
<text class="s" x="1286" y="128" style="font-size:9px">I2</text>
<text class="s" x="1243" y="152" style="font-size:9px">I3</text>
<text class="s" x="1307" y="165" style="font-size:9px">I1</text>
<g style="font-size:11px" text-anchor="end">
<text x="1228" y="108">10<tspan dy="-5" font-size="7">9</tspan></text>
<text x="1228" y="150">10<tspan dy="-5" font-size="7">7</tspan></text>
<text x="1228" y="192">10<tspan dy="-5" font-size="7">5</tspan></text>
</g>
<g style="font-size:11px" text-anchor="middle">
<text x="1232" y="235">0</text><text x="1259" y="235">10</text><text x="1287" y="235">20</text><text x="1314" y="235">30</text><text x="1342" y="235">40</text>
<text x="1300" y="250" style="font-size:12px">1/[T(K)]</text>
<text x="1237" y="99">1</text><text x="1258" y="99">0.1</text><text x="1299" y="99">0.04</text><text x="1342" y="99">0.025</text>
<text x="1300" y="85">T(K)</text>
</g>
<text transform="translate(1205,185) rotate(-90)" style="font-size:12px">R<tspan font-size="8" dy="3">□</tspan><tspan dy="-3"> ( Ω )</tspan></text>

<text x="1242" y="288" style="font-size:12px">(c)</text>
<text class="s" x="1300" y="301" style="font-size:9px">I3</text>
<text class="s" x="1340" y="320" style="font-size:9px">I2</text>
<text class="s" x="1303" y="373" style="font-size:9px">S1</text>
<g style="font-size:11px" text-anchor="end">
<text x="1228" y="264">10<tspan dy="-5" font-size="7">6</tspan></text>
<text x="1228" y="322">10<tspan dy="-5" font-size="7">5</tspan></text>
<text x="1228" y="379">10<tspan dy="-5" font-size="7">4</tspan></text>
</g>
<g style="font-size:11px" text-anchor="middle">
<text x="1232" y="422">0</text><text x="1272" y="422">1</text><text x="1312" y="422">2</text><text x="1352" y="422">3</text>
<text x="1300" y="438" style="font-size:12px">1/[T(K)]<tspan dy="-5" font-size="8">1/2</tspan></text>
</g>
<text x="1244" y="256" style="font-size:10px">10  2  1  0.5 0.3 0.2  T(K)</text>
<text transform="translate(1205,350) rotate(-90)" style="font-size:12px">R<tspan font-size="8" dy="3">□</tspan><tspan dy="-3"> ( Ω )</tspan></text>

<g transform="translate(1638,285) scale(85,-0.925)" fill="none" stroke-width="1.6">
 <polyline stroke="#2a2ae6" vector-effect="non-scaling-stroke" points="-1.68,137 -1.4,146 -1.2,160 -0.95,180 -0.75,198 -0.5,206 -0.3,203 -0.15,195 0,178 0.15,145 0.3,112 0.5,82 0.7,63 0.9,50 1.1,40 1.2,35"/>
 <polyline stroke="#2a2ae6" vector-effect="non-scaling-stroke" points="-1.8,53 -1.5,55 -1.2,61 -0.9,72 -0.6,92 -0.4,115 -0.25,138 -0.15,150 -0.08,155 0,152 0.1,137 0.25,108 0.4,85 0.6,66 0.8,52 1.0,41"/>
 <polyline stroke="#e02424" vector-effect="non-scaling-stroke" points="-1.8,13 -1.3,14 -0.8,16 -0.4,21 -0.15,30 0,43 0.1,56 0.2,64 0.26,65 0.35,62 0.5,52 0.7,40 0.9,32 1.2,24"/>
 <polyline stroke="#e02424" vector-effect="non-scaling-stroke" points="-1.68,5.5 -1.2,7 -0.7,9 -0.3,14 -0.05,23 0.1,33 0.22,40 0.3,42 0.4,41 0.55,35 0.75,28 1.0,22 1.2,19"/>
</g>
<g style="font-size:11px" text-anchor="end">
<text x="1481" y="104">200</text><text x="1481" y="150">150</text><text x="1481" y="196">100</text><text x="1481" y="243">50</text><text x="1481" y="289">0</text>
</g>
<g style="font-size:11px" text-anchor="middle">
<text x="1553" y="301">0.1</text><text x="1638" y="301">1</text><text x="1723" y="301">10</text>
<text x="1612" y="316" style="font-size:12px">B (T)</text>
</g>
<text class="s" x="1494" y="171" style="font-size:9px">I3: 300 mK</text>
<text class="s" x="1491" y="224" style="font-size:9px">I1: 250 mK</text>
<text class="s" x="1561" y="256" style="font-size:9px">S1: 180 mK</text>
<text class="s" x="1633" y="276" style="font-size:9px">S2: 180 mK</text>
<text transform="translate(1460,200) rotate(-90)" style="font-size:12px">R<tspan font-size="8" dy="3">□</tspan><tspan dy="-3"> (kΩ)</tspan></text>

<g transform="translate(2012,261) scale(100,-74.3)" fill="none" stroke="#111" stroke-width="1.4">
 <polyline vector-effect="non-scaling-stroke" points="-0.1,0.78 -0.05,0.45 0,0.04 0.05,0.6 0.1,0.9 0.2,1.3 0.3,1.6 0.4,1.85 0.45,2.0 0.6,2.0 0.63,1.82"/>
 <polyline vector-effect="non-scaling-stroke" points="-0.1,0.52 -0.05,0.25 0,-0.1 0.05,0.45 0.1,0.8 0.2,1.2 0.3,1.48 0.4,1.65 0.55,1.72 0.7,1.7 0.85,1.62 1.0,1.52"/>
 <polyline vector-effect="non-scaling-stroke" points="-0.1,0.08 -0.05,-0.25 0,-0.66 0.05,-0.2 0.1,0.1 0.2,0.5 0.35,0.85 0.5,0.97 0.6,0.98 0.75,0.9 0.9,0.75 1.0,0.62"/>
 <polyline vector-effect="non-scaling-stroke" points="-0.1,-0.62 -0.05,-0.8 0,-1.0 0.05,-0.78 0.15,-0.55 0.3,-0.38 0.5,-0.27 0.75,-0.22 1,-0.23"/>
 <polyline vector-effect="non-scaling-stroke" points="-0.03,-1.26 0,-1.33 0.1,-1.2 0.3,-1.0 0.5,-0.87 0.75,-0.81 1,-0.82"/>
</g>
<text x="2010" y="124" style="font-size:11px">(a)</text>
<g style="font-size:9px">
<text x="2085" y="125">60 mK</text><text x="2072" y="162">68 mK</text><text x="2070" y="225">110 mK</text><text x="2070" y="292">150 mK</text><text x="2070" y="339">250 mK</text>
</g>
<g style="font-size:11px" text-anchor="end">
<text x="1999" y="116">100</text><text x="1999" y="190">10</text><text x="1999" y="265">1</text><text x="1999" y="339">0.1</text>
</g>
<g style="font-size:10px" text-anchor="middle">
<text x="2012" y="379">0.0</text><text x="2062" y="379">0.5</text><text x="2112" y="379">1.0</text>
<text x="2058" y="395" style="font-size:11px">B (T)</text>
</g>
<text x="1975" y="95" style="font-size:12px">R<tspan font-size="8" dy="4">□</tspan><tspan dy="-4"> (MΩ)</tspan></text>
<g transform="translate(2153,155.6) scale(5.6,-24.3)" fill="none" stroke="#111" stroke-width="1.3" stroke-dasharray="4 2">
 <polyline vector-effect="non-scaling-stroke" points="4,-1.3 7,-1.0 10,-0.65 12,-0.4 14.5,-0.1"/>
 <polyline vector-effect="non-scaling-stroke" points="4,-0.9 7,-0.3 9,0.3 11.5,0.95 14.5,1.7"/>
 <polyline vector-effect="non-scaling-stroke" points="4,-0.95 7,-0.4 9,0.1 11.5,0.7 14.5,1.35"/>
 <polyline vector-effect="non-scaling-stroke" points="4,-1.0 7,-0.45 9,0.0 12,0.55 14.5,1.0"/>
</g>
<g fill="#111"><rect x="2174" y="181" width="5" height="5"/><rect x="2189" y="164" width="5" height="5"/><rect x="2201" y="151" width="5" height="5"/><rect x="2215" y="136" width="5" height="5"/><rect x="2233" y="120" width="5" height="5"/><rect x="2219" y="132" width="5" height="5"/></g>
<g style="font-size:8px"><text x="2242" y="119">0.5 T</text><text x="2242" y="129">0.3 T</text><text x="2242" y="139">0.2 T</text><text x="2248" y="163">0 T</text></g>
<text x="2168" y="123" style="font-size:11px">(b)</text>
<g style="font-size:10px" text-anchor="end">
<text x="2147" y="110">100</text><text x="2147" y="135">10</text><text x="2147" y="159">1</text><text x="2147" y="184">0.1</text><text x="2147" y="208">0.01</text>
</g>
<g style="font-size:10px" text-anchor="middle">
<text x="2153" y="218">0</text><text x="2181" y="218">5</text><text x="2209" y="218">10</text><text x="2237" y="218">15</text>
<text x="2205" y="232">1/[T(K)]</text>
</g>
<text x="2118" y="95" style="font-size:12px">R<tspan font-size="8" dy="4">□</tspan><tspan dy="-4"> (MΩ)</tspan></text>
<g transform="translate(2153,363)" fill="none" stroke-width="1.3">
 <polyline stroke="#999" stroke-dasharray="2 2" points="0,-5 4,-32 8,-54 16,-73 24,-83 36,-88 44,-88 56,-83 64,-78 76,-71"/>
 <polyline stroke="#111" points="0,0 8,-12 16,-24 24,-40 32,-55 40,-67 48,-77 56,-79 60,-71 68,-55 80,-43 88,-40 96,-35 104,-32 110,-28"/>
</g>
<text x="2158" y="276" style="font-size:11px">(c)</text>
<text x="2160" y="250" style="font-size:10px">T<tspan font-size="7" dy="3">0</tspan><tspan dy="-3"> (K)</tspan></text>
<text x="2225" y="250" style="font-size:10px">V<tspan font-size="7" dy="3">T</tspan><tspan dy="-3"> (mV)</tspan></text>
<g style="font-size:10px" text-anchor="end"><text x="2147" y="268">0.6</text><text x="2147" y="292">0.5</text><text x="2147" y="317">0.4</text><text x="2147" y="341">0.3</text><text x="2147" y="366">0.2</text></g>
<g style="font-size:10px"><text x="2257" y="287">10</text><text x="2257" y="327">5</text><text x="2257" y="366">0</text></g>
<g style="font-size:10px" text-anchor="middle"><text x="2153" y="379">0.0</text><text x="2193" y="379">0.5</text><text x="2233" y="379">1.0</text><text x="2200" y="395" style="font-size:11px">B (T)</text></g>
<line x1="2185" y1="280" x2="2168" y2="280" stroke="#111"/><line x1="2232" y1="313" x2="2248" y2="313" stroke="#111"/>

<g transform="translate(2064,566) scale(4.58,-27.1)" fill="none" stroke="#111" stroke-width="1.3">
 <polyline vector-effect="non-scaling-stroke" points="-10.5,0.48 -8,0.3 -6,-0.1 -4,-0.6 -2,-1.1 -0.5,-1.4 0.5,-1.4 2,-1.1 4,-0.6 6,-0.1 8,0.35 10,0.5 12.8,0.6"/>
 <polyline vector-effect="non-scaling-stroke" points="-5.5,0.05 -5.5,-3.6"/>
 <polyline vector-effect="non-scaling-stroke" points="7.9,0.3 7.9,-3.6"/>
</g>
<line x1="2045" y1="605" x2="2045" y2="620" stroke="#111"/><line x1="2090" y1="598" x2="2090" y2="614" stroke="#111"/>
<text x="2040" y="565" style="font-size:10px">B = 0.9 T</text>
<text x="2052" y="620" style="font-size:9px">70 mK</text>
<text x="2040" y="658" style="font-size:9px">20 mK</text>
<text x="2008" y="656" style="font-size:10px">(a)</text>
<g style="font-size:10px" text-anchor="end">
<text x="2003" y="570">10<tspan dy="-4" font-size="7">0</tspan></text>
<text x="2003" y="597">10<tspan dy="-4" font-size="7">-1</tspan></text>
<text x="2003" y="624">10<tspan dy="-4" font-size="7">-2</tspan></text>
<text x="2003" y="651">10<tspan dy="-4" font-size="7">-3</tspan></text>
</g>
<g style="font-size:10px" text-anchor="middle"><text x="2009" y="676">-12</text><text x="2027" y="676">-8</text><text x="2046" y="676">-4</text><text x="2064" y="676">0</text><text x="2082" y="676">4</text><text x="2101" y="676">8</text><text x="2119" y="676">12</text>
<text x="2064" y="690">V<tspan font-size="7" dy="3">dc</tspan><tspan dy="-3"> (mV)</tspan></text></g>
<text transform="translate(1985,635) rotate(-90)" style="font-size:10px">dI/dV (μS)</text>
<g transform="translate(2202.5,663) scale(6.69,-10.9)" fill="none" stroke="#111" stroke-width="1.3">
 <polyline vector-effect="non-scaling-stroke" points="-9,10.5 -6,9.6 -4,8.7 -2,7 -1,5.3 -0.5,3.5 -0.1,1.5 0,0.3 0.1,1.5 0.5,3.5 1,5.3 2,7 4,8.7 6,9.6 9,10.5"/>
 <polyline vector-effect="non-scaling-stroke" points="-9,7.3 -6,6.6 -4,5.8 -2,4.2 -1,2.6 -0.3,0.6 0,0.2 0.3,0.6 1,2.6 2,4.2 4,5.8 6,6.6 9,7.3"/>
 <polyline vector-effect="non-scaling-stroke" points="-9,6.3 -6,5.4 -4,4.4 -2,2.6 -1,1.0 -0.5,0 0.5,0 1,1.0 2,2.6 4,4.4 6,5.4 9,6.3"/>
 <polyline vector-effect="non-scaling-stroke" points="-9,4.9 -6,3.7 -4,2.7 -2.5,1.5 -1.5,0 1.5,0 2.5,1.5 4,2.7 6,3.7 9,4.9"/>
 <polyline vector-effect="non-scaling-stroke" points="-9,4.1 -7,3.0 -5,2.0 -4.2,1.6 -4.2,0 4.2,0 4.2,1.6 5,2.0 7,3.0 9,4.1"/>
</g>
<text x="2213" y="559" style="font-size:9px">B = 16 T</text><text x="2232" y="588" style="font-size:9px">6.2 T</text><text x="2235" y="651" style="font-size:9px">1.25 T</text><text x="2150" y="656" style="font-size:10px">(b)</text>
<g style="font-size:10px" text-anchor="end"><text x="2140" y="558">10</text><text x="2140" y="580">8</text><text x="2140" y="602">6</text><text x="2140" y="624">4</text><text x="2140" y="645">2</text><text x="2140" y="667">0</text></g>
<g style="font-size:10px" text-anchor="middle"><text x="2149" y="676">-8</text><text x="2176" y="676">-4</text><text x="2202" y="676">0</text><text x="2229" y="676">4</text><text x="2256" y="676">8</text>
<text x="2205" y="690">V<tspan font-size="7" dy="3">dc</tspan><tspan dy="-3"> (mV)</tspan></text></g>
<text transform="translate(2128,635) rotate(-90)" style="font-size:10px">dI/dV (μS)</text>
<g transform="translate(2136,818) scale(21.8,-10.8)" fill="none" stroke="#111" stroke-width="1.3">
 <polyline vector-effect="non-scaling-stroke" points="-6,6.3 -5.3,6 -5.1,5.3 -4,5.2 -3,5.6 -2,6.4 -1.5,7.6 -1.1,9 -0.85,10.2 -0.7,9 -0.55,8.6 -0.4,7.8 -0.3,5 -0.15,1 0,0 0.25,0 0.35,3 0.5,7 0.65,8.8 0.8,8.5 1,8.8 1.1,8.3 1.35,9 1.6,8.3 2,7.3 3,6.1 4,5.3 5,5.2 6,5.6"/>
 <polyline vector-effect="non-scaling-stroke" points="-6,5.4 -5.9,4.7 -5,4.4 -4,4 -3,3.6 -2.2,3.0 -2.1,2.5 -1.4,2.2 -1,1.9 -0.8,1.8 -0.75,0 0.95,0 1.0,1.6 2,2 3,2.6 3.6,2.9 3.7,3.6 4.5,4.1 5.5,4.5 6,4.7"/>
 <polyline vector-effect="non-scaling-stroke" points="-6,3.4 -5,3.0 -4.5,2.5 -3.5,2.1 -3.3,1.7 -2,1.3 -1.5,1.0 -1.45,0 2,0 2,1.0 3,1.5 4,2.0 5,2.6 5.8,2.9 6,3.3"/>
</g>
<line x1="2161" y1="768" x2="2161" y2="741" stroke="#111" stroke-width="1.2"/><path d="M2158,746 L2161,739 L2164,746 Z" fill="#111"/>
<text x="2068" y="727" style="font-size:9px">B = 0 T</text><text x="2072" y="777" style="font-size:9px">0.1 T</text><text x="2041" y="814" style="font-size:9px">0.2 T</text><text x="2016" y="813" style="font-size:11px">(c)</text>
<g style="font-size:10px" text-anchor="end"><text x="2001" y="714">10</text><text x="2001" y="735">8</text><text x="2001" y="757">6</text><text x="2001" y="779">4</text><text x="2001" y="800">2</text><text x="2001" y="822">0</text></g>
<g style="font-size:10px" text-anchor="middle"><text x="2005" y="833">-6</text><text x="2049" y="833">-4</text><text x="2092" y="833">-2</text><text x="2136" y="833">0</text><text x="2180" y="833">2</text><text x="2223" y="833">4</text><text x="2267" y="833">6</text>
<text x="2136" y="848">V<tspan font-size="7" dy="3">dc</tspan><tspan dy="-3"> (mV)</tspan></text></g>
<text transform="translate(1985,785) rotate(-90)" style="font-size:10px">dI/dV (μS)</text>
</svg>
</body></html>
